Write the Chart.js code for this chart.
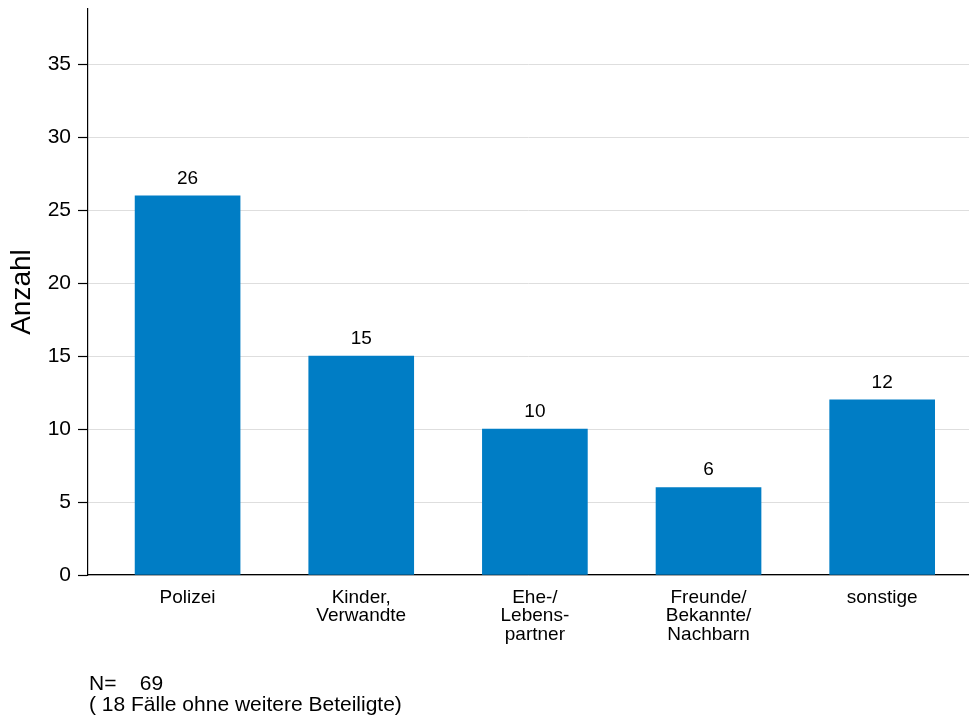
<!DOCTYPE html>
<html>
<head>
<meta charset="utf-8">
<script src="https://cdn.jsdelivr.net/npm/chart.js@4"></script>
<style>
  body { margin: 0; background: #fff; }
  #wrap { position: relative; width: 969px; height: 719px; }
  #note {
    position: absolute; left: 89px; top: 672px;
    font: 21px "Liberation Sans", Arial, sans-serif; line-height: 21px;
    color: #000; white-space: pre;
  }
</style>
</head>
<body>
<div id="wrap">
  <canvas id="chart" width="969" height="719"></canvas>
  <div id="note">N=    69
( 18 Fälle ohne weitere Beteiligte)</div>
</div>
<script>
// Daten
const categories = [
  ["Polizei"],
  ["Kinder,", "Verwandte"],
  ["Ehe-/", "Lebens-", "partner"],
  ["Freunde/", "Bekannte/", "Nachbarn"],
  ["sonstige"]
];
const values = [26, 15, 10, 6, 12];
const yMax = 38.8;
const yStep = 5;

const FONT = '"Liberation Sans", Arial, sans-serif';

// Zahlen über den Balken
const valueLabels = {
  id: "valueLabels",
  afterDatasetsDraw(chart) {
    const ctx = chart.ctx;
    const meta = chart.getDatasetMeta(0);
    ctx.save();
    ctx.font = "19px " + FONT;
    ctx.fillStyle = "#000";
    ctx.textAlign = "center";
    ctx.textBaseline = "alphabetic";
    meta.data.forEach((bar, i) => {
      ctx.fillText(values[i], bar.x, bar.y - 12);
    });
    ctx.restore();
  }
};

new Chart(document.getElementById("chart"), {
  type: "bar",
  data: {
    datasets: [{
      data: values.map((v, i) => ({ x: i, y: v })),
      backgroundColor: "#007dc5",
      borderWidth: 0,
      barThickness: 105
    }]
  },
  options: {
    responsive: false,
    devicePixelRatio: 1,
    animation: false,
    layout: { padding: { top: 9, right: 0, bottom: 0, left: 0 } },
    plugins: { legend: { display: false }, tooltip: { enabled: false } },
    scales: {
      x: {
        type: "linear",
        offset: false,
        min: -0.5735,
        max: 4.5,
        grid: { display: false, drawTicks: false },
        border: { color: "#000", width: 1.2 },
        ticks: {
          stepSize: 1,
          includeBounds: false,
          autoSkip: false,
          maxRotation: 0,
          padding: 13,
          color: "#000",
          font: { family: FONT, size: 19, lineHeight: 0.98 },
          callback: (v) => (Number.isInteger(v) && categories[v]) ? categories[v] : null
        },
        afterFit: (scale) => { scale.height = 144; scale.paddingLeft = 0; scale.paddingRight = 0; }
      },
      y: {
        min: 0,
        max: yMax,
        grid: { color: "#dedede", lineWidth: 1, tickColor: "#000", tickLength: 10, tickWidth: 1.2 },
        border: { color: "#000", width: 1.2 },
        ticks: {
          stepSize: yStep,
          includeBounds: false,
          padding: 7,
          color: "#000",
          font: { family: FONT, size: 21 }
        },
        title: {
          display: true,
          text: "Anzahl",
          color: "#000",
          font: { family: FONT, size: 28 },
          padding: { top: 5, bottom: 0 }
        },
        afterFit: (scale) => { scale.width = 88; scale.paddingTop = 0; scale.paddingBottom = 0; }
      }
    }
  },
  plugins: [valueLabels]
});
</script>
</body>
</html>
